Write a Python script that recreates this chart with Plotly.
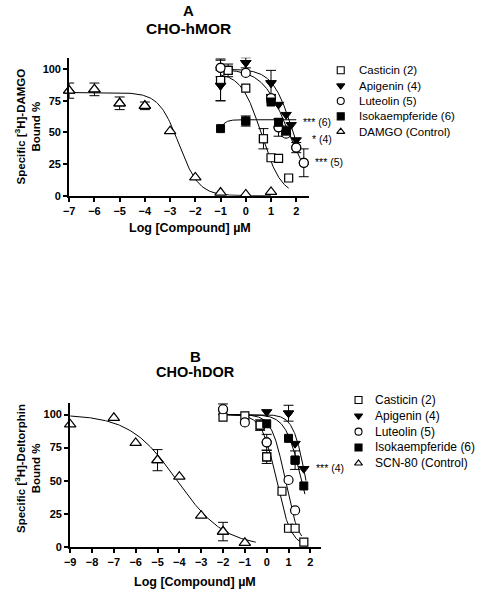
import numpy as np
import plotly.graph_objects as go

W, H = 478, 600
FONT = "Liberation Sans, Arial, Helvetica, sans-serif"

# ---------------- Panel A: CHO-hMOR ----------------
a_series = ["Casticin (2)", "Apigenin (4)", "Luteolin (5)", "Isokaempferide (6)", "DAMGO (Control)"]

a_casticin_x = [-1, -0.7, 0, 0.7, 1, 1.3, 1.7]
a_casticin_y = [91, 99, 85, 45, 30, 29.5, 14]
a_casticin_err = [16, 5, None, 8, None, None, None]

a_apigenin_x = [-1, 0, 1, 1.3, 1.6, 1.8, 2]
a_apigenin_y = [87, 105, 89, 72, 64, 56, 44]
a_apigenin_err = [12, 4, 10, None, None, None, None]

a_luteolin_x = [-1, 0, 1, 1.3, 1.6, 2, 2.3]
a_luteolin_y = [101, 97, 77, 54, 49, 38, 26]
a_luteolin_err = [7, None, 3, 7, None, 4, 11]

a_isok_x = [-1, 0, 1, 1.3, 1.6]
a_isok_y = [53, 59, 74, 58, 51]
a_isok_err = [None, 4, None, None, 4]

a_damgo_x = [-7, -6, -5, -4, -3, -2, -1, 0, 1]
a_damgo_y = [83, 84, 73, 71, 51, 14.5, 2.5, 1, 3]
a_damgo_err = [6, 5, 5, 3, None, None, None, None, None]

# fitted curve parameters (Prism: Y = Bottom + (Top-Bottom)/(1+10^((LogIC50-X)*Hill)))
a_fit_bottom = [0, 0, 0, 0, 0]
a_fit_top = [97, 100, 100, 60, 81.5]
a_fit_logic50 = [0.62, 1.88, 1.7, -1.3, -2.65]
a_fit_hill = [-1.1, -1.07, -0.85, 2.9, -1.1]
a_fit_xmin = [-1, -1, -1, -1, -7]
a_fit_xmax = [1.7, 2.0, 2.3, 2.0, 1.0]

# significance labels: text, y value
a_marks = [("*** (6)", 58.6), ("* (4)", 44.8), ("*** (5)", 26.3)]

# ---------------- Panel B: CHO-hDOR ----------------
b_series = ["Casticin (2)", "Apigenin (4)", "Luteolin (5)", "Isokaempferide (6)", "SCN-80 (Control)"]

b_casticin_x = [-2, -1, -0.3, 0, 0.7, 1, 1.3, 1.7]
b_casticin_y = [98, 99, 92, 68, 42, 14, 14, 3.5]
b_casticin_err = [None, None, 4, 5, None, None, None, None]

b_apigenin_x = [0, 1, 1.3, 1.7]
b_apigenin_y = [102, 101, 78, 59]
b_apigenin_err = [None, 6, None, None]

b_luteolin_x = [-2, -1, 0, 1, 1.3]
b_luteolin_y = [104, 94, 79, 50.5, 27.5]
b_luteolin_err = [4, None, 6, None, None]

b_isok_x = [0, 1, 1.3, 1.7]
b_isok_y = [93, 82, 65.5, 46]
b_isok_err = [None, None, 7, None]

b_scn_x = [-9, -7, -6, -5, -4, -3, -2, -1]
b_scn_y = [92.5, 97.5, 78.5, 65.5, 53, 23.5, 11.5, 3]
b_scn_err = [None, None, None, 8, None, None, 7, None]

b_fit_bottom = [0, 0, 0, 0, 0]
b_fit_top = [100, 100, 100, 100, 100]
b_fit_logic50 = [0.45, 1.8, 0.85, 1.6, -4.1]
b_fit_hill = [-1.3, -1.5, -1.4, -1.2, -0.4]
b_fit_xmin = [-2, -2, -2, -2, -9]
b_fit_xmax = [1.7, 1.8, 1.6, 1.75, -0.5]

b_marks = [("*** (4)", 59.3)]

# ---------------- styles ----------------
styles = [
    dict(symbol="square", color="white", line=dict(color="black", width=1.2), size=8),
    dict(symbol="triangle-down", color="black", line=dict(color="black", width=1), size=9),
    dict(symbol="circle", color="white", line=dict(color="black", width=1.2), size=9),
    dict(symbol="square", color="black", line=dict(color="black", width=1), size=8),
    dict(symbol="triangle-up", color="white", line=dict(color="black", width=1.2), size=10),
]

a_data = [(a_casticin_x, a_casticin_y, a_casticin_err),
          (a_apigenin_x, a_apigenin_y, a_apigenin_err),
          (a_luteolin_x, a_luteolin_y, a_luteolin_err),
          (a_isok_x, a_isok_y, a_isok_err),
          (a_damgo_x, a_damgo_y, a_damgo_err)]
b_data = [(b_casticin_x, b_casticin_y, b_casticin_err),
          (b_apigenin_x, b_apigenin_y, b_apigenin_err),
          (b_luteolin_x, b_luteolin_y, b_luteolin_err),
          (b_isok_x, b_isok_y, b_isok_err),
          (b_scn_x, b_scn_y, b_scn_err)]


def prism(x, bottom, top, logic50, hill):
    return bottom + (top - bottom) / (1 + 10 ** ((logic50 - x) * hill))


fig = go.Figure()


def add_panel(data, bottoms, tops, logs, hills, xmins, xmaxs, xa, ya, names):
    for i in range(len(data)):
        xs = np.linspace(xmins[i], xmaxs[i], 200)
        ys = prism(xs, bottoms[i], tops[i], logs[i], hills[i])
        fig.add_trace(go.Scatter(x=xs, y=ys, mode="lines", xaxis=xa, yaxis=ya,
                                 line=dict(color="black", width=1), showlegend=False,
                                 hoverinfo="skip", cliponaxis=False))
    for i, (xs, ys, es) in enumerate(data):
        st = styles[i]
        ex = [x for x, e in zip(xs, es) if e is not None]
        ey = [y for y, e in zip(ys, es) if e is not None]
        ee = [e for e in es if e is not None]
        if ex:
            fig.add_trace(go.Scatter(x=ex, y=ey, mode="markers", xaxis=xa, yaxis=ya,
                                     marker=dict(symbol=st["symbol"], color=st["color"],
                                                 line=st["line"], size=st["size"]),
                                     error_y=dict(type="data", array=ee, visible=True,
                                                  color="black", thickness=1, width=5),
                                     showlegend=False, cliponaxis=False, hoverinfo="skip"))
    for i, (xs, ys, es) in enumerate(data):
        st = styles[i]
        fig.add_trace(go.Scatter(x=xs, y=ys, mode="markers", xaxis=xa, yaxis=ya, name=names[i],
                                 marker=dict(symbol=st["symbol"], color=st["color"],
                                             line=st["line"], size=st["size"]),
                                 showlegend=False, cliponaxis=False))


add_panel(a_data, a_fit_bottom, a_fit_top, a_fit_logic50, a_fit_hill, a_fit_xmin, a_fit_xmax,
          "x", "y", a_series)
add_panel(b_data, b_fit_bottom, b_fit_top, b_fit_logic50, b_fit_hill, b_fit_xmin, b_fit_xmax,
          "x2", "y2", b_series)

# ---------------- legends (pixel overlay axis) ----------------
legend_a = dict(mx=339, tx=355, y0=71, dy=15.5, size=11.5)
legend_b = dict(mx=357, tx=372, y0=404, dy=16, size=12)

for names, lg in ((a_series, legend_a), (b_series, legend_b)):
    for i, nm in enumerate(names):
        st = styles[i]
        fig.add_trace(go.Scatter(x=[lg["mx"]], y=[lg["y0"] + i * lg["dy"]], mode="markers",
                                 xaxis="x3", yaxis="y3", showlegend=False, hoverinfo="skip",
                                 marker=dict(symbol=st["symbol"], color=st["color"],
                                             line=dict(color="black", width=1.1), size=7),
                                 cliponaxis=False))
annotations = []
for names, lg in ((a_series, legend_a), (b_series, legend_b)):
    for i, nm in enumerate(names):
        annotations.append(dict(x=lg["tx"], y=lg["y0"] + i * lg["dy"], xref="x3", yref="y3",
                                text=nm, showarrow=False, xanchor="left", yanchor="middle",
                                font=dict(family=FONT, size=lg["size"], color="black")))

# significance marks (left edge in pixels, y in data units)
a_marks_px = [299, 308, 311]
b_marks_px = [311.5]
for (txt, y), px in zip(a_marks, a_marks_px):
    annotations.append(dict(x=px / W, y=y, xref="paper", yref="y", text=txt, showarrow=False,
                            xanchor="left", yanchor="middle",
                            font=dict(family=FONT, size=10.5, color="black")))
for (txt, y), px in zip(b_marks, b_marks_px):
    annotations.append(dict(x=px / W, y=y, xref="paper", yref="y2", text=txt, showarrow=False,
                            xanchor="left", yanchor="middle",
                            font=dict(family=FONT, size=10.5, color="black")))


def add_text(txt, px, py, size, angle=0):
    annotations.append(dict(x=px / W, y=1 - py / H, xref="paper", yref="paper", text=txt,
                            showarrow=False, xanchor="center", yanchor="middle", textangle=angle,
                            font=dict(family=FONT, size=size, color="black", weight="bold")))


add_text("A", 185, 11, 15)
add_text("CHO-hMOR", 185, 29, 15.5)
add_text("B", 192, 360, 15)
add_text("CHO-hDOR", 192, 376, 14.5)
add_text("Log [Compound] \u00b5M", 186, 230, 12.5)
add_text("Log [Compound] \u00b5M", 191, 588, 12.5)
add_text("Specific [<sup>3</sup>H]-DAMGO<br>Bound %", 22, 128, 11.5, -90)
add_text("Specific [<sup>3</sup>H]-Deltorphin<br>Bound %", 22, 473, 11.5, -90)

axis_common = dict(showline=True, linecolor="black", linewidth=2, ticks="outside",
                   ticklen=4, tickwidth=1.5, tickcolor="black", showgrid=False, zeroline=False,
                   tickfont=dict(family=FONT, size=11, color="black", weight="bold"),
                   fixedrange=True)

fig.update_layout(
    width=W, height=H,
    margin=dict(l=0, r=0, t=0, b=0),
    paper_bgcolor="white", plot_bgcolor="rgba(0,0,0,0)",
    showlegend=False,
    xaxis=dict(domain=[64 / W, 306.7 / W], range=[-7, 2.5], tickvals=list(range(-7, 3)),
               anchor="y", **axis_common),
    yaxis=dict(domain=[1 - 197.7 / H, 1 - 58.3 / H], range=[0, 109],
               tickvals=[0, 25, 50, 75, 100], anchor="x", **axis_common),
    xaxis2=dict(domain=[65 / W, 319.3 / W], range=[-9, 2.5], tickvals=list(range(-9, 3)),
                anchor="y2", **axis_common),
    yaxis2=dict(domain=[1 - 552.3 / H, 1 - 406.7 / H], range=[0, 109],
                tickvals=[0, 25, 50, 75, 100], anchor="x2", **axis_common),
    xaxis3=dict(domain=[0, 1], range=[0, W], visible=False, anchor="y3", fixedrange=True),
    yaxis3=dict(domain=[0, 1], range=[H, 0], visible=False, anchor="x3", fixedrange=True),
    annotations=annotations,
)

fig.write_html("out.html", config={"displayModeBar": False},
               post_script="document.body.style.margin='0';document.body.style.overflow='hidden';")
